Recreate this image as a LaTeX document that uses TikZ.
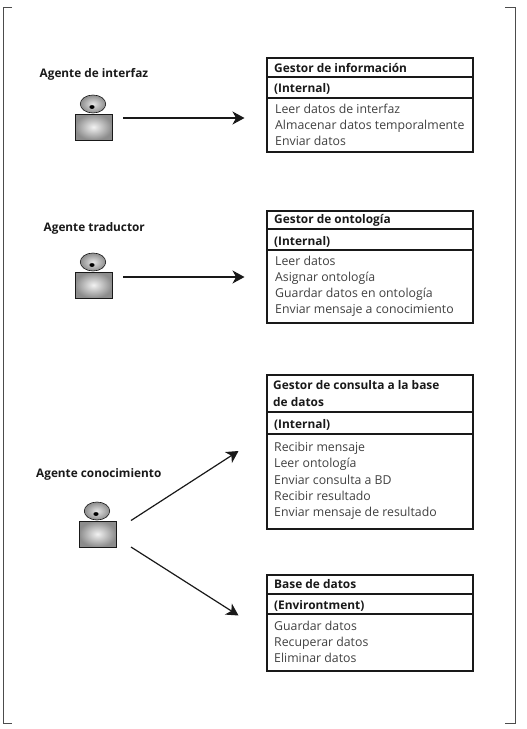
\documentclass[tikz,border=0pt]{standalone}
\usepackage{fontspec}
\setmainfont{Open Sans}
\usetikzlibrary{arrows.meta,calc,shapes.geometric}
\definecolor{frameC}{gray}{0.3}
\definecolor{inkC}{gray}{0.1}
\tikzset{
  x=1pt,y=-1pt,
  frameLine/.style={draw=frameC,line width=0.9pt},
  boxLine/.style={draw=inkC,line width=1.5pt},
  arrowLine/.style={draw=inkC,line width=1.2pt,-{Stealth[length=12pt,width=13pt,inset=3.5pt]}},
  agentLabel/.style={anchor=base west,font=\fontsize{11.8}{13}\selectfont\bfseries,text=inkC,inner sep=0pt},
  titleText/.style={anchor=base west,inner sep=0pt,font=\fontsize{11.9}{14}\selectfont\bfseries,text=inkC},
  bodyText/.style={anchor=base west,inner sep=0pt,font=\fontsize{12.3}{14}\selectfont,text=black!75},
}
% name, x, y of the body's top-left corner
\newcommand{\agentfig}[3]{%
  \node[draw=inkC,line width=0.7pt,inner sep=0pt,minimum width=37pt,minimum height=26pt,inner color=black!5,outer color=black!45] (#1body) at (#2+18.5,#3+13) {};
  \node[draw=inkC,line width=0.6pt,ellipse,minimum width=25.5pt,minimum height=18pt,inner sep=0pt,inner color=black!10,outer color=black!45] (#1head) at (#2+18,#3-10) {};
  \fill[black] (#2+17,#3-7) ellipse (2.6pt and 1.9pt);
}
% name, top, bottom, sep1, sep2
\newcommand{\infobox}[5]{%
  \draw[boxLine] (267,#2) rectangle (473,#3);
  \draw[boxLine] (267,#4) -- (473,#4);
  \draw[boxLine] (267,#5) -- (473,#5);
}
\begin{document}
\begin{tikzpicture}
\useasboundingbox (0,0) rectangle (527,729);
% page marks
\draw[frameLine] (12,7) -- (3,7) -- (3,723) -- (12,723);
\draw[frameLine] (505,7) -- (515,7) -- (515,723) -- (505,723);
% boxes
\infobox{b1}{58}{152}{77}{98}
\node[titleText] (t1) at (274,72) {Gestor de información};
\node[titleText] (i1) at (274,92) {(Internal)};
\node[bodyText] (d1a) at (275,113) {Leer datos de interfaz};
\node[bodyText] (d1b) at (275,129) {Almacenar datos temporalmente};
\node[bodyText] (d1c) at (275,145) {Enviar datos};
\infobox{b2}{211}{323}{229}{250}
\node[titleText] (t2) at (274,223) {Gestor de ontología};
\node[titleText] (i2) at (274,245) {(Internal)};
\node[bodyText] (d2a) at (275,265) {Leer datos};
\node[bodyText] (d2b) at (275,281) {Asignar ontología};
\node[bodyText] (d2c) at (275,297) {Guardar datos en ontología};
\node[bodyText] (d2d) at (275,313) {Enviar mensaje a conocimiento};
\infobox{b3}{375}{529}{412}{434}
\node[titleText] (t3a) at (273,389) {Gestor de consulta a la base};
\node[titleText] (t3b) at (273,406) {de datos};
\node[titleText] (i3) at (274,428) {(Internal)};
\node[bodyText] (d3a) at (274,451) {Recibir mensaje};
\node[bodyText] (d3b) at (274,467.5) {Leer ontología};
\node[bodyText] (d3c) at (274,484) {Enviar consulta a BD};
\node[bodyText] (d3d) at (274,500) {Recibir resultado};
\node[bodyText] (d3e) at (274,516) {Enviar mensaje de resultado};
\infobox{b4}{575}{671}{594}{614}
\node[titleText] (t4) at (274,588) {Base de datos};
\node[titleText] (i4) at (274,609) {(Environtment)};
\node[bodyText] (d4a) at (274,630) {Guardar datos};
\node[bodyText] (d4b) at (274,646) {Recuperar datos};
\node[bodyText] (d4c) at (274,662) {Eliminar datos};
% agents
\node[agentLabel] (l1) at (39.5,77) {Agente de interfaz};
\node[agentLabel] (l2) at (43.5,231) {Agente traductor};
\node[agentLabel] (l3) at (36,477) {Agente conocimiento};
\agentfig{a1}{75}{114}
\agentfig{a2}{75}{272}
\agentfig{a3}{79}{521}
% arrows
\coordinate (s1) at (123,118); \coordinate (e1) at (244.5,118);
\coordinate (s2) at (123,277); \coordinate (e2) at (244.5,277);
\coordinate (s3) at (131,520.5); \coordinate (e3) at (238.5,451);
\coordinate (s4) at (131,547); \coordinate (e4) at (238.5,615.5);
\draw[arrowLine] (s1) -- (e1);
\draw[arrowLine] (s2) -- (e2);
\draw[arrowLine] (s3) -- (e3);
\draw[arrowLine] (s4) -- (e4);
\end{tikzpicture}
\end{document}
